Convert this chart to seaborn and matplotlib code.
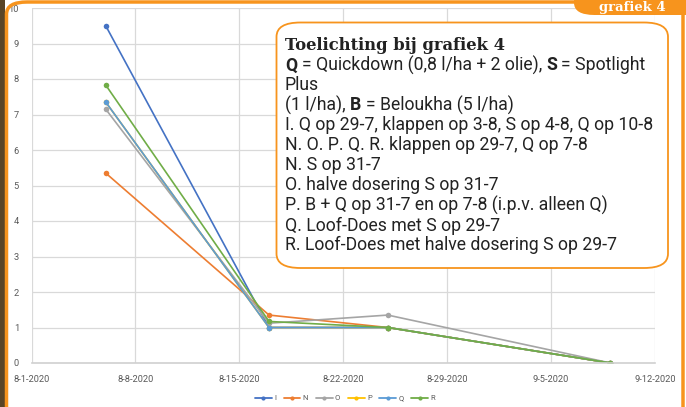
import pandas as pd
import matplotlib
matplotlib.use('Agg')
import matplotlib.pyplot as plt
from matplotlib.patches import FancyBboxPatch, Rectangle
from matplotlib.lines import Line2D
import seaborn as sns

# data
dates = ['2020-08-06', '2020-08-17', '2020-08-25', '2020-09-09']
series_names = ['I', 'N', 'O', 'P', 'Q', 'R']
vals_I = [9.5, 1.0, 1.0, 0.0]
vals_N = [5.35, 1.35, 1.0, 0.0]
vals_O = [7.15, 1.12, 1.35, 0.0]
vals_P = [7.35, 1.0, 1.0, 0.0]
vals_Q = [7.35, 1.0, 1.0, 0.0]
vals_R = [7.83, 1.17, 1.0, 0.0]
series_colors = ['#4472C4', '#ED7D31', '#A5A5A5', '#FFC000', '#5B9BD5', '#70AD47']

tick_dates = ['2020-08-01', '2020-08-08', '2020-08-15', '2020-08-22',
              '2020-08-29', '2020-09-05', '2020-09-12']
tick_labels = ['8-1-2020', '8-8-2020', '8-15-2020', '8-22-2020',
               '8-29-2020', '9-5-2020', '9-12-2020']

note_title = 'Toelichting bij grafiek 4'
note_lines = [
    [('Q', True), ('= Quickdown (0,8 l/ha + 2 olie),', False), ('S', True), ('= Spotlight', False)],
    [('Plus', False)],
    [('(1 l/ha),', False), ('B', True), ('= Beloukha (5 l/ha)', False)],
    [('I. Q op 29-7, klappen op 3-8, S op 4-8, Q op 10-8', False)],
    [('N. O. P. Q. R. klappen op 29-7, Q op 7-8', False)],
    [('N. S op 31-7', False)],
    [('O. halve dosering S op 31-7', False)],
    [('P. B + Q op 31-7 en op 7-8 (i.p.v. alleen Q)', False)],
    [('Q. Loof-Does met S op 29-7', False)],
    [('R. Loof-Does met halve dosering S op 29-7', False)],
]

all_vals = [vals_I, vals_N, vals_O, vals_P, vals_Q, vals_R]
rows = []
for name, vals in zip(series_names, all_vals):
    for d, v in zip(dates, vals):
        rows.append({'datum': pd.Timestamp(d), 'waarde': v, 'serie': name})
df = pd.DataFrame(rows)

W, H = 686, 407
sns.set_style('white')
plt.rcParams['font.family'] = ['Roboto', 'DejaVu Sans']

fig = plt.figure(figsize=(W / 100, H / 100), dpi=100)
fig.patch.set_facecolor('white')
ax = fig.add_axes([31.5 / W, 1 - 363 / H, (655 - 31.5) / W, (363 - 8) / H])

sns.lineplot(data=df, x='datum', y='waarde', hue='serie', hue_order=series_names,
             palette=series_colors, marker='o', markersize=4, markeredgewidth=0,
             linewidth=1.2, ax=ax, legend=False)

ax.set_xlim(pd.Timestamp(tick_dates[0]), pd.Timestamp(tick_dates[-1]))
ax.set_ylim(0, 10)
ax.set_xticks([pd.Timestamp(d) for d in tick_dates])
ax.set_xticklabels(tick_labels)
ax.set_yticks(range(0, 11))
ax.tick_params(axis='both', labelsize=6.7, labelcolor='#595959', length=0)
ax.tick_params(axis='x', pad=9)
ax.tick_params(axis='y', pad=9)
ax.set_xlabel('')
ax.set_ylabel('')
ax.grid(True, color='#D9D9D9', linewidth=0.9)
for s in ['top', 'right', 'left']:
    ax.spines[s].set_visible(False)
ax.spines['bottom'].set_color('#D0D0D0')
ax.spines['bottom'].set_linewidth(1.2)

handles = [Line2D([0], [0], color=c, lw=1.3, marker='o', markersize=3, markeredgewidth=0)
           for c in series_colors]
fig.legend(handles, series_names, loc='center', bbox_to_anchor=(345 / W, 1 - 398 / H),
           ncol=6, frameon=False, fontsize=5.5, handlelength=2.2, handletextpad=0.3,
           columnspacing=1.0, labelcolor='#595959')

# frame / background decoration
orange = '#F7941D'
fig.add_artist(Rectangle((0, 0), 5 / W, 1, transform=fig.transFigure,
                         facecolor='#5a4526', edgecolor='none', zorder=0))
fig.add_artist(FancyBboxPatch((6.5 / W, -40 / H), (683 - 6.5) / W, 445 / H,
                              boxstyle='round,pad=0,rounding_size=0.03',
                              transform=fig.transFigure, facecolor='none',
                              edgecolor=orange, linewidth=2.5, zorder=5))
fig.add_artist(FancyBboxPatch((574 / W, 1 - 15 / H), 140 / W, 40 / H,
                              boxstyle='round,pad=0,rounding_size=0.03',
                              transform=fig.transFigure, facecolor=orange,
                              edgecolor='none', zorder=5))
fig.text(632 / W, 1 - 11 / H, 'grafiek 4', fontsize=9.5, fontweight='bold',
         family='DejaVu Serif', color='white', ha='center', va='baseline', zorder=6)

# note box
fig.add_artist(FancyBboxPatch((276.5 / W, 1 - 268 / H), (668 - 276.5) / W, (268 - 22.5) / H,
                              boxstyle='round,pad=0,rounding_size=0.035',
                              transform=fig.transFigure, facecolor='white',
                              edgecolor=orange, linewidth=1.3, zorder=7))

renderer = fig.canvas.get_renderer()
body_size = 12.7
text_color = '#222222'


def text_width(s, bold):
    t = fig.text(0, 0, s, fontsize=body_size, fontweight='bold' if bold else 'normal')
    w = t.get_window_extent(renderer).width
    t.remove()
    return w


space_w = text_width('x x', False) - text_width('xx', False)

fig.text(285 / W, 1 - 50.5 / H, note_title, fontsize=11.8, fontweight='bold',
         family='DejaVu Serif', color=text_color, ha='left', va='baseline', zorder=8)

y_px = 70.5
for parts in note_lines:
    x_px = 285
    for txt, bold in parts:
        t = fig.text(x_px / W, 1 - y_px / H, txt, fontsize=body_size,
                     fontweight='bold' if bold else 'normal', color=text_color,
                     ha='left', va='baseline', zorder=8)
        x_px += t.get_window_extent(renderer).width + space_w
    y_px += 20

fig.savefig('out.png', dpi=100, facecolor=fig.get_facecolor())
